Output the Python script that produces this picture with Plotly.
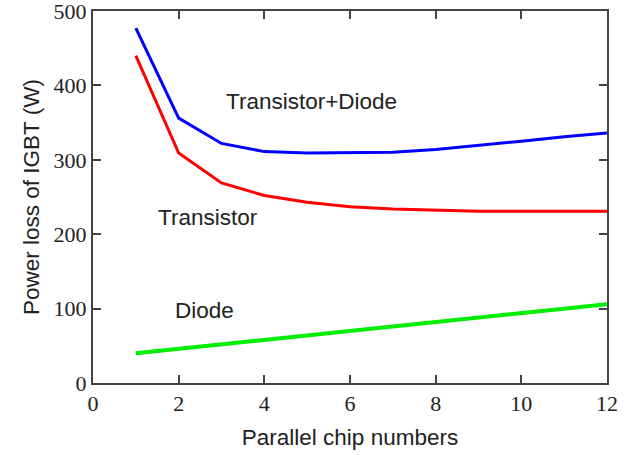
import plotly.graph_objects as go

# Number of parallel chips
chips = [1, 2, 3, 4, 5, 6, 7, 8, 9, 10, 11, 12]

# Power loss (W)
loss_total = [477, 356, 322, 311, 309, 309, 310, 314, 319, 325, 331, 336]
loss_transistor = [440, 309, 269, 252, 243, 237, 234, 232, 231, 231, 231, 231]
loss_diode = [40, 46, 52, 58, 64, 70, 76, 82, 88, 94, 100, 106]

x_ticks = [0, 2, 4, 6, 8, 10, 12]
y_ticks = [0, 100, 200, 300, 400, 500]

fig = go.Figure()
fig.add_trace(go.Scatter(x=chips, y=loss_total, mode="lines",
                         line=dict(color="#0000ff", width=3), name="Transistor+Diode"))
fig.add_trace(go.Scatter(x=chips, y=loss_transistor, mode="lines",
                         line=dict(color="#ff0000", width=3), name="Transistor"))
fig.add_trace(go.Scatter(x=chips, y=loss_diode, mode="lines",
                         line=dict(color="#00ee00", width=4), name="Diode"))

label_font = dict(family="Liberation Sans, Arial, sans-serif", size=22.5, color="#222222")
fig.add_annotation(x=5.09, y=378, text="Transistor+Diode", showarrow=False, font=label_font)
fig.add_annotation(x=2.69, y=222, text="Transistor", showarrow=False, font=label_font)
fig.add_annotation(x=2.61, y=97, text="Diode", showarrow=False, font=label_font)

axis_common = dict(
    showline=True, linecolor="#444444", linewidth=2, mirror="allticks",
    ticks="inside", ticklen=8, tickwidth=2, tickcolor="#444444",
    showgrid=False, zeroline=False, automargin=False, ticklabeloverflow="allow",
    tickfont=dict(family="Liberation Serif, Times New Roman, serif", size=22, color="#222222"),
)

fig.update_layout(
    width=642, height=455,
    margin=dict(l=93, r=35, t=11, b=72),
    paper_bgcolor="white", plot_bgcolor="white",
    showlegend=False,
    xaxis=dict(range=[0, 12], tickvals=x_ticks,
               title=dict(text="Parallel chip numbers", font=label_font, standoff=14),
               **axis_common),
    yaxis=dict(range=[0, 500], tickvals=y_ticks,
               title=dict(text="Power loss of IGBT (W)", font=label_font, standoff=8),
               **axis_common),
)

fig.write_html("out.html")
